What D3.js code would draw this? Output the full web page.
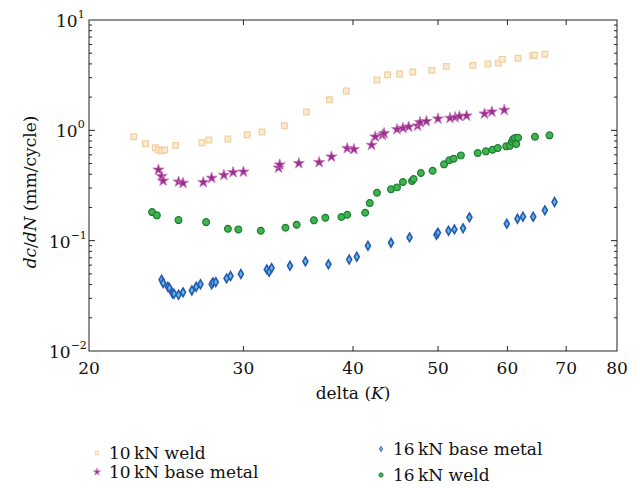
<!DOCTYPE html>
<html lang="en">
<head>
<meta charset="utf-8">
<title>dc/dN vs delta K</title>
<script src="https://d3js.org/d3.v7.min.js"></script>
<style>
  body { margin: 0; background: #fff; }
  svg text { font-family: "DejaVu Serif", serif; fill: #111; }
</style>
</head>
<body>
<script>
// 10 kN weld
var weldX10 = [22.5, 23.2, 23.8, 24.0, 24.2, 24.4, 25.1, 26.9, 27.4, 28.8, 30.3, 31.5, 33.4, 35.4, 37.6, 39.3,
               42.6, 43.8, 45.2, 46.8, 49.2, 51.1, 54.8, 57.0, 58.6, 59.2, 61.7, 64.1, 64.4, 66.2];
var weldY10 = [0.875, 0.756, 0.696, 0.667, 0.653, 0.663, 0.731, 0.772, 0.817, 0.834, 0.912, 0.965, 1.10, 1.465, 1.894, 2.272,
               2.858, 3.19, 3.24, 3.38, 3.50, 3.80, 3.88, 3.99, 4.07, 4.40, 4.50, 4.75, 4.79, 4.89];
// 10 kN base metal
var baseX10 = [24.0, 24.2, 24.3, 25.3, 25.6, 27.0, 27.6, 28.5, 29.2, 30.0, 32.9, 33.0, 34.7, 36.6, 37.8, 39.4, 40.1,
               42.0, 42.4, 43.2, 43.4, 44.9, 45.6, 46.3, 47.4, 47.7, 48.5, 50.0, 51.6, 52.3, 52.9, 53.9, 56.5, 57.6, 59.5];
var baseY10 = [0.439, 0.383, 0.349, 0.342, 0.333, 0.338, 0.370, 0.393, 0.416, 0.421, 0.458, 0.488, 0.502, 0.513, 0.576, 0.687, 0.673,
               0.736, 0.875, 0.906, 0.939, 1.021, 1.049, 1.078, 1.101, 1.182, 1.207, 1.274, 1.293, 1.312, 1.339, 1.356, 1.414, 1.474, 1.528];
// 16 kN base metal
var baseX16 = [24.2, 24.3, 24.6, 24.7, 24.9, 25.0, 25.3, 25.6, 26.2, 26.5, 26.8, 27.6, 27.7, 27.9, 28.7, 29.0, 29.8,
               31.9, 32.1, 32.3, 33.9, 35.3, 37.5, 39.6, 40.4, 41.6, 44.2, 46.4, 49.8, 50.0, 51.4, 52.2, 53.4, 54.3,
               59.9, 61.6, 62.5, 64.2, 66.2, 67.9];
var baseY16 = [0.0442, 0.0413, 0.0382, 0.0372, 0.0333, 0.0330, 0.0323, 0.0340, 0.0354, 0.0382, 0.0402, 0.0402, 0.0419, 0.0421, 0.0455, 0.0478, 0.0498,
               0.0549, 0.0522, 0.0564, 0.0592, 0.0649, 0.0610, 0.0674, 0.0715, 0.0899, 0.0957, 0.1071, 0.1131, 0.118, 0.123, 0.1265, 0.1293, 0.1626,
               0.1423, 0.158, 0.1648, 0.1648, 0.1883, 0.2239];
// 16 kN weld
var weldX16 = [23.6, 23.9, 25.3, 27.2, 28.8, 29.6, 31.4, 33.5, 34.5, 36.1, 37.2, 38.8, 39.4, 41.3, 41.8, 42.6, 44.2, 44.9,
               45.6, 46.7, 46.9, 47.8, 49.3, 50.8, 51.5, 52.1, 53.1, 55.5, 56.7, 57.7, 58.5, 59.8, 60.4, 60.7, 60.9, 61.2,
               61.4, 61.7, 64.5, 67.0];
var weldY16 = [0.1816, 0.1696, 0.1537, 0.1474, 0.1282, 0.1265, 0.123, 0.1309, 0.1394, 0.1528, 0.1613, 0.1637, 0.1717, 0.179, 0.219, 0.272, 0.292, 0.304,
               0.340, 0.347, 0.362, 0.410, 0.430, 0.492, 0.535, 0.553, 0.593, 0.622, 0.645, 0.667, 0.691, 0.716, 0.725, 0.788, 0.829, 0.852,
               0.751, 0.857, 0.875, 0.901];

var xTicks = [20, 30, 40, 50, 60, 70, 80];
var yTicks = [0.01, 0.1, 1, 10];
var yExp = ["\u22122", "\u22121", "0", "1"];

var W = 640, H = 488;
var margin = {left: 89, right: 617, top: 20, bottom: 351};

var svg = d3.select("body").append("svg")
    .attr("width", W).attr("height", H);

var x = d3.scaleLog().domain([20, 80]).range([margin.left, margin.right]);
var y = d3.scaleLog().domain([0.01, 10]).range([margin.bottom, margin.top]);

// minor ticks for the y axis
var yMinor = [];
[0.01, 0.1, 1].forEach(function(d) {
  for (var k = 2; k <= 9; k++) yMinor.push(d * k);
});

var axes = svg.append("g").attr("stroke", "#222").attr("stroke-width", 1);

// frame
axes.append("rect")
    .attr("x", margin.left).attr("y", margin.top)
    .attr("width", margin.right - margin.left).attr("height", margin.bottom - margin.top)
    .attr("fill", "none");

// x ticks, bottom and top, inward
axes.selectAll(null).data(xTicks.slice(1, -1)).enter().append("line")
    .attr("x1", function(d) { return x(d); }).attr("x2", function(d) { return x(d); })
    .attr("y1", margin.bottom).attr("y2", margin.bottom - 5);
axes.selectAll(null).data(xTicks.slice(1, -1)).enter().append("line")
    .attr("x1", function(d) { return x(d); }).attr("x2", function(d) { return x(d); })
    .attr("y1", margin.top).attr("y2", margin.top + 5);

// y ticks, both sides
[margin.left, margin.right].forEach(function(x0) {
  var dir = x0 === margin.left ? 1 : -1;
  axes.selectAll(null).data(yTicks.slice(1, -1)).enter().append("line")
      .attr("x1", x0).attr("x2", x0 + dir * 6)
      .attr("y1", function(d) { return y(d); }).attr("y2", function(d) { return y(d); });
  axes.selectAll(null).data(yMinor).enter().append("line")
      .attr("x1", x0).attr("x2", x0 + dir * 3)
      .attr("y1", function(d) { return y(d); }).attr("y2", function(d) { return y(d); });
});

// tick labels
svg.append("g").selectAll("text").data(xTicks).enter().append("text")
    .attr("x", function(d) { return x(d); })
    .attr("y", margin.bottom + 23)
    .attr("text-anchor", "middle")
    .style("font-size", "17px")
    .text(function(d) { return d; });

var yl = svg.append("g").selectAll("text").data(yTicks).enter().append("text")
    .attr("x", function(d, i) { return i < 2 ? margin.left - 40 : margin.left - 33; })
    .attr("y", function(d) { return y(d) + 7; })
    .style("font-size", "17px");
yl.append("tspan").text("10");
yl.append("tspan").attr("dy", -9).style("font-size", "11px")
    .text(function(d, i) { return yExp[i]; });

// axis titles
svg.append("text")
    .attr("x", (margin.left + margin.right) / 2).attr("y", 399)
    .attr("text-anchor", "middle")
    .style("font-size", "17px")
    .html('delta (<tspan font-style="italic">K</tspan>)');

svg.append("text")
    .attr("transform", "translate(36,192) rotate(-90)")
    .attr("text-anchor", "middle")
    .style("font-size", "17px")
    .html('<tspan font-style="italic">dc</tspan>/<tspan font-style="italic">dN</tspan> (mm/cycle)');

// series
var series = [
  {name: "10 kN weld", xs: weldX10, ys: weldY10, type: d3.symbolSquare, size: 32, fill: "#fbead2", stroke: "#f0cf9c", sw: 1.2},
  {name: "10 kN base metal", xs: baseX10, ys: baseY10, type: d3.symbolStar, size: 38, fill: "#9a2f8d", stroke: "#c877be", sw: 0.8},
  {name: "16 kN base metal", xs: baseX16, ys: baseY16, type: d3.symbolDiamond, size: 22, fill: "#56c2e0", stroke: "#2b57b3", sw: 1.6},
  {name: "16 kN weld", xs: weldX16, ys: weldY16, type: d3.symbolCircle, size: 36, fill: "#3fb44d", stroke: "#1c7a33", sw: 1.2}
];

series.forEach(function(s) {
  var pts = s.xs.map(function(v, i) { return [v, s.ys[i]]; });
  svg.append("g").selectAll("path").data(pts).enter().append("path")
      .attr("transform", function(d) { return "translate(" + x(d[0]) + "," + y(d[1]) + ")"; })
      .attr("d", d3.symbol().type(s.type).size(s.size))
      .attr("fill", s.fill)
      .attr("stroke", s.stroke)
      .attr("stroke-width", s.sw);
});

// legend
var legendPos = [[97, 453], [97, 472], [381, 449], [381, 475]];
series.forEach(function(s, i) {
  var g = svg.append("g").attr("transform", "translate(" + legendPos[i][0] + "," + legendPos[i][1] + ")");
  g.append("path")
      .attr("d", d3.symbol().type(s.type).size(s.size * 0.4))
      .attr("fill", s.fill).attr("stroke", s.stroke).attr("stroke-width", 0.8);
  g.append("text").attr("x", 12).attr("y", 6)
      .style("font-size", "17px")
      .text(s.name.replace(" kN", "\u2009kN"));
});
</script>
</body>
</html>
